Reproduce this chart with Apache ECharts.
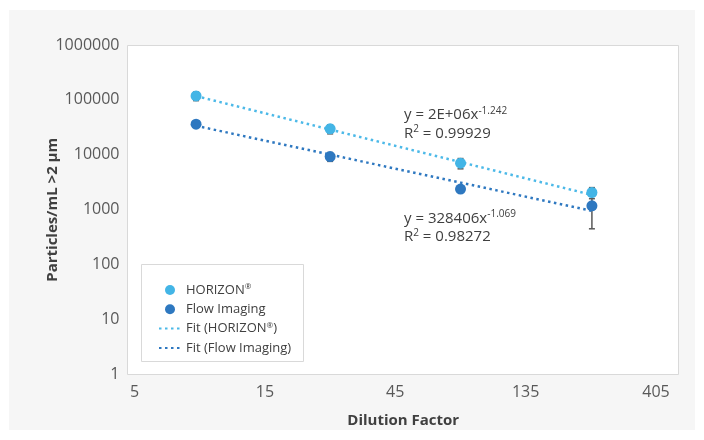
<!DOCTYPE html>
<html>
<head>
<meta charset="utf-8">
<script src="https://cdn.jsdelivr.net/npm/echarts@6/dist/echarts.min.js"></script>
<style>
  html, body { margin: 0; padding: 0; background: #ffffff; }
  #chart { width: 704px; height: 440px; }
</style>
</head>
<body>
<div id="chart"></div>
<script>
// Dilution factors of the measured samples
const dilution = [8.4, 26, 78, 236];
// Particle counts above 2 µm, per mL
const horizon = [118000, 29700, 7060, 2060];
const flowImaging = [36100, 9300, 2380, 1180];
// Error bar half-widths (± particles/mL)
const horizonErr = [21000, 5600, 1500, 470];
const flowErr = [4000, 1700, 250, 730];
// Power-law trendlines  y = a · x^b
const horizonFit = { a: 1.65e6, b: -1.242, r2: 0.99929 };
const flowFit = { a: 328406, b: -1.069, r2: 0.98272 };
// Axis tick labels
const xTicks = [5, 15, 45, 135, 405];
const yTicks = [1, 10, 100, 1000, 10000, 100000, 1000000];

const names = ['HORIZON®', 'Flow Imaging', 'Fit (HORIZON®)', 'Fit (Flow Imaging)'];
const colors = { horizon: '#43b5e6', flow: '#2e78c0', hFit: '#4cb9e8', fFit: '#2e78c0' };
const FONT = '"Open Sans", "Noto Sans", sans-serif';

// The dilution axis is logarithmic in base 3, counted from the first tick
const u = d => Math.log(d / xTicks[0]) / Math.log(3);
const uMax = u(xTicks[xTicks.length - 1]);

const points = vals => dilution.map((d, i) => [u(d), vals[i]]);
const bars = (vals, errs) => dilution.map((d, i) => [u(d), vals[i] - errs[i], vals[i] + errs[i]]);
const fitLine = f => dilution.map(d => [u(d), f.a * Math.pow(d, f.b)]);

// Trendline label text in spreadsheet style
function fmtCoef(a) {
  if (a >= 1e6) {
    const [m, e] = a.toExponential(0).split('e');
    const n = Math.abs(parseInt(e, 10));
    return m + 'E' + (e[0] === '-' ? '-' : '+') + (n < 10 ? '0' + n : n);
  }
  return String(Math.round(a));
}
const eqText = f => `{m|y = ${fmtCoef(f.a)}x}{s|${f.b.toFixed(3)}}`;
const r2Text = f => `{m|R}{s|2}{m| = ${f.r2.toFixed(5)}}`;
const eqRich = {
  m: { fontSize: 15, fontFamily: FONT, fill: '#404040', lineHeight: 18 },
  s: { fontSize: 10, fontFamily: FONT, fill: '#404040', lineHeight: 12, verticalAlign: 'top' }
};
const eqLabel = (text, x, y) => ({
  type: 'text', x, y, z: 10,
  style: { text, rich: eqRich, fill: '#404040', verticalAlign: 'middle', align: 'left' }
});

function errorBars(params, api) {
  const x = api.value(0);
  const top = api.coord([x, api.value(2)]);
  const bot = api.coord([x, api.value(1)]);
  const w = 3;
  const style = { stroke: '#595959', lineWidth: 1.5 };
  return {
    type: 'group',
    children: [
      { type: 'line', shape: { x1: top[0], y1: top[1], x2: bot[0], y2: bot[1] }, style },
      { type: 'line', shape: { x1: top[0] - w, y1: top[1], x2: top[0] + w, y2: top[1] }, style },
      { type: 'line', shape: { x1: bot[0] - w, y1: bot[1], x2: bot[0] + w, y2: bot[1] }, style }
    ]
  };
}

const chart = echarts.init(document.getElementById('chart'), null, { renderer: 'canvas' });
chart.setOption({
  animation: false,
  backgroundColor: 'transparent',
  textStyle: { fontFamily: FONT },
  graphic: [
    { type: 'rect', z: -10, shape: { x: 9, y: 10, width: 686, height: 420 }, style: { fill: '#f6f6f6' } },
    { type: 'rect', z: -9, shape: { x: 127.5, y: 45.5, width: 551, height: 329 },
      style: { fill: '#ffffff', stroke: '#d9d9d9', lineWidth: 1 } },
    { type: 'rect', z: -8, shape: { x: 141.5, y: 264.5, width: 162, height: 97 },
      style: { fill: '#ffffff', stroke: '#d9d9d9', lineWidth: 1 } },
    eqLabel(eqText(horizonFit), 404, 115),
    eqLabel(r2Text(horizonFit), 404, 133.5),
    eqLabel(eqText(flowFit), 404, 218.5),
    eqLabel(r2Text(flowFit), 404, 237)
  ],
  grid: { left: 134.5, right: 48, top: 45, bottom: 65.5, containLabel: false },
  legend: {
    orient: 'vertical', left: 153, top: 278,
    itemWidth: 22, itemHeight: 10, itemGap: 5.3,
    data: [
      { name: names[0] },
      { name: names[1] },
      { name: names[2], itemStyle: { opacity: 0 } },
      { name: names[3], itemStyle: { opacity: 0 } }
    ],
    formatter: n => n.replace('®', '{r|®}'),
    textStyle: {
      fontFamily: FONT, fontSize: 13, color: '#404040', lineHeight: 14,
      rich: { r: { fontSize: 8, fontFamily: FONT, color: '#404040', lineHeight: 10, verticalAlign: 'top' } }
    }
  },
  xAxis: {
    type: 'value', min: 0, max: uMax, interval: 1,
    name: 'Dilution Factor', nameLocation: 'middle', nameGap: 39, nameMoveOverlap: false,
    nameTextStyle: { fontFamily: FONT, fontSize: 15, fontWeight: 'bold', color: '#404040', padding: [0, 0, 0, 16] },
    axisLine: { show: false }, axisTick: { show: false }, splitLine: { show: false },
    axisLabel: { margin: 10, fontFamily: FONT, fontSize: 16, color: '#595959',
      formatter: (v, i) => String(xTicks[i]) }
  },
  yAxis: {
    type: 'log', logBase: 10, min: yTicks[0], max: yTicks[yTicks.length - 1], interval: 1,
    name: 'Particles/mL >2 µm', nameLocation: 'middle', nameGap: 74, nameMoveOverlap: false,
    nameTextStyle: { fontFamily: FONT, fontSize: 15, fontWeight: 'bold', color: '#404040' },
    axisLine: { show: false }, axisTick: { show: false }, splitLine: { show: false },
    axisLabel: { margin: 15, fontFamily: FONT, fontSize: 16, color: '#595959',
      formatter: v => String(Math.round(v)) }
  },
  series: [
    { type: 'custom', name: 'err-h', z: 1, renderItem: errorBars, encode: { x: 0, y: [1, 2] },
      data: bars(horizon, horizonErr), silent: true },
    { type: 'custom', name: 'err-f', z: 1, renderItem: errorBars, encode: { x: 0, y: [1, 2] },
      data: bars(flowImaging, flowErr), silent: true },
    { type: 'line', name: names[2], z: 2, data: fitLine(horizonFit), symbol: 'none', showSymbol: false,
      itemStyle: { color: colors.hFit },
      lineStyle: { color: colors.hFit, width: 2.5, type: [2.5, 3.5], cap: 'butt' } },
    { type: 'line', name: names[3], z: 2, data: fitLine(flowFit), symbol: 'none', showSymbol: false,
      itemStyle: { color: colors.fFit },
      lineStyle: { color: colors.fFit, width: 2.5, type: [2.5, 3.5], cap: 'butt' } },
    { type: 'scatter', name: names[0], z: 3, symbol: 'circle', symbolSize: 11,
      itemStyle: { color: colors.horizon, opacity: 1 }, data: points(horizon) },
    { type: 'scatter', name: names[1], z: 3, symbol: 'circle', symbolSize: 11,
      itemStyle: { color: colors.flow, opacity: 1 }, data: points(flowImaging) }
  ]
});
</script>
</body>
</html>
